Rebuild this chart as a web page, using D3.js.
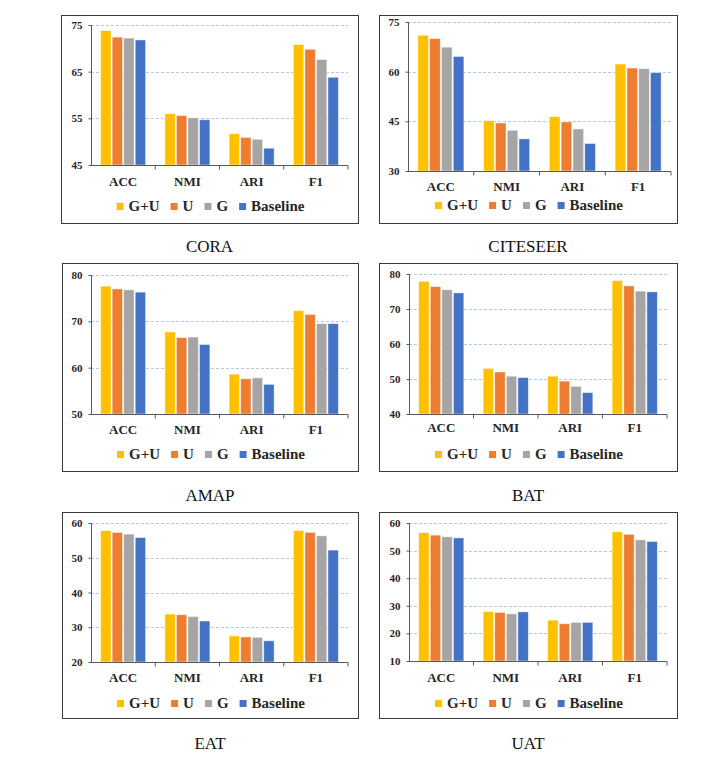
<!DOCTYPE html>
<html>
<head>
<meta charset="utf-8">
<script src="https://cdn.jsdelivr.net/npm/d3@7"></script>
<style>
  html, body { margin: 0; padding: 0; background: #fff; }
  svg { display: block; }
  text { font-family: 'Liberation Serif', 'Times New Roman', serif; }
</style>
</head>
<body>
<div id="chart"></div>
<script>
var categories = ['ACC', 'NMI', 'ARI', 'F1'];
var seriesNames = ['G+U', 'U', 'G', 'Baseline'];
var seriesColors = ['#FFC000', '#ED7D31', '#A5A5A5', '#4472C4'];
var datasets = ['CORA', 'CITESEER', 'AMAP', 'BAT', 'EAT', 'UAT'];

// values: one row per series (G+U, U, G, Baseline), one column per category
var coraValues = [
  [73.8, 56.0, 51.7, 70.8],
  [72.4, 55.6, 50.9, 69.8],
  [72.2, 55.1, 50.5, 67.6],
  [71.8, 54.7, 48.6, 63.8]
];
var citeseerValues = [
  [71.0, 45.2, 46.4, 62.3],
  [70.0, 44.5, 44.8, 61.1],
  [67.4, 42.3, 42.7, 60.9],
  [64.6, 39.7, 38.3, 59.7]
];
var amapValues = [
  [77.6, 67.7, 58.6, 72.3],
  [77.0, 66.5, 57.6, 71.5],
  [76.8, 66.6, 57.8, 69.5],
  [76.3, 65.0, 56.4, 69.5]
];
var batValues = [
  [77.9, 53.0, 50.8, 78.1],
  [76.4, 52.0, 49.4, 76.6],
  [75.5, 50.8, 47.9, 75.1],
  [74.6, 50.4, 46.1, 74.9]
];
var eatValues = [
  [57.8, 33.8, 27.5, 57.8],
  [57.3, 33.6, 27.2, 57.3],
  [56.8, 33.1, 27.1, 56.3],
  [55.8, 31.8, 26.1, 52.2]
];
var uatValues = [
  [56.5, 27.9, 24.8, 56.8],
  [55.6, 27.6, 23.5, 55.9],
  [55.0, 27.1, 24.0, 53.9],
  [54.6, 27.8, 24.0, 53.3]
];

var coraTicks = [45, 55, 65, 75];
var citeseerTicks = [30, 45, 60, 75];
var amapTicks = [50, 60, 70, 80];
var batTicks = [40, 50, 60, 70, 80];
var eatTicks = [20, 30, 40, 50, 60];
var uatTicks = [10, 20, 30, 40, 50, 60];

var allValues = [coraValues, citeseerValues, amapValues, batValues, eatValues, uatValues];
var allTicks = [coraTicks, citeseerTicks, amapTicks, batTicks, eatTicks, uatTicks];

// panel layout (pixels)
var layout = [
  { box: [61, 15, 358, 223],  plot: [91, 25, 348, 165],  catY: 186, legY: 206, titleY: 252 },
  { box: [379, 15, 677, 223], plot: [408, 22, 671, 171], catY: 191, legY: 205, titleY: 252 },
  { box: [62, 263, 358, 471], plot: [91, 275, 348, 414], catY: 434, legY: 454, titleY: 501 },
  { box: [379, 263, 677, 471], plot: [409, 274, 667, 414], catY: 432, legY: 454, titleY: 501 },
  { box: [62, 512, 358, 718], plot: [91, 523, 348, 662], catY: 682, legY: 703, titleY: 749 },
  { box: [379, 512, 677, 718], plot: [409, 523, 667, 661], catY: 682, legY: 703, titleY: 749 }
];

var svg = d3.select('#chart').append('svg')
  .attr('width', 703)
  .attr('height', 757);

datasets.forEach(function (name, i) {
  var L = layout[i];
  var values = allValues[i];
  var ticks = allTicks[i];
  var g = svg.append('g');

  // frame
  g.append('rect')
    .attr('x', L.box[0] + 0.5)
    .attr('y', L.box[1] + 0.5)
    .attr('width', L.box[2] - L.box[0])
    .attr('height', L.box[3] - L.box[1])
    .attr('fill', '#fff')
    .attr('stroke', '#3a3a3a')
    .attr('stroke-width', 1);

  var x0 = d3.scaleBand()
    .domain(categories)
    .range([L.plot[0], L.plot[2]])
    .paddingInner(0.3)
    .paddingOuter(0.15);

  var x1 = d3.scaleBand()
    .domain(seriesNames)
    .range([0, x0.bandwidth()])
    .paddingInner(0.1);

  var y = d3.scaleLinear()
    .domain([d3.min(ticks), d3.max(ticks)])
    .range([L.plot[3], L.plot[1]]);

  // gridlines
  g.append('g')
    .selectAll('line')
    .data(ticks.slice(1))
    .enter().append('line')
    .attr('x1', L.plot[0])
    .attr('x2', L.plot[2])
    .attr('y1', function (d) { return Math.round(y(d)) + 0.5; })
    .attr('y2', function (d) { return Math.round(y(d)) + 0.5; })
    .attr('stroke', '#b4c7e7')
    .attr('stroke-width', 1)
    .attr('stroke-dasharray', '3,2');

  // bars
  categories.forEach(function (cat, c) {
    seriesNames.forEach(function (s, k) {
      var v = values[k][c];
      g.append('rect')
        .attr('x', x0(cat) + x1(s))
        .attr('y', y(v))
        .attr('width', x1.bandwidth())
        .attr('height', y(d3.min(ticks)) - y(v))
        .attr('fill', seriesColors[k])
        .attr('stroke', '#fff')
        .attr('stroke-opacity', 0.55)
        .attr('stroke-width', 0.8);
    });
  });

  // y axis
  var yAxis = d3.axisLeft(y)
    .tickValues(ticks)
    .tickSize(3)
    .tickPadding(6)
    .tickFormat(d3.format('d'));
  var ya = g.append('g')
    .attr('transform', 'translate(' + (L.plot[0] + 0.5) + ',0)')
    .call(yAxis);
  ya.select('.domain').attr('stroke', '#595959').attr('d', 'M0,' + y(d3.max(ticks)) + 'V' + y(d3.min(ticks)));
  ya.selectAll('.tick line').attr('stroke', '#595959');
  ya.selectAll('.tick text')
    .attr('font-family', "'Liberation Serif', 'Times New Roman', serif")
    .attr('font-size', 11)
    .attr('font-weight', 'bold')
    .attr('fill', '#262626');

  // x axis line and boundary ticks
  var base = Math.round(y(d3.min(ticks))) + 0.5;
  g.append('line')
    .attr('x1', L.plot[0])
    .attr('x2', L.plot[2])
    .attr('y1', base)
    .attr('y2', base)
    .attr('stroke', '#595959')
    .attr('stroke-width', 1);

  var step = (L.plot[2] - L.plot[0]) / categories.length;
  g.append('g')
    .selectAll('line')
    .data(categories)
    .enter().append('line')
    .attr('x1', function (d, j) { return L.plot[0] + step * (j + 1); })
    .attr('x2', function (d, j) { return L.plot[0] + step * (j + 1); })
    .attr('y1', base)
    .attr('y2', base + 4)
    .attr('stroke', '#595959');

  // category labels
  g.append('g')
    .selectAll('text')
    .data(categories)
    .enter().append('text')
    .attr('x', function (d) { return x0(d) + x0.bandwidth() / 2; })
    .attr('y', L.catY)
    .attr('text-anchor', 'middle')
    .attr('font-size', 13)
    .attr('font-weight', 'bold')
    .attr('fill', '#262626')
    .text(function (d) { return d; });

  // legend
  var leg = g.append('g');
  var cx = 0;
  seriesNames.forEach(function (s, k) {
    leg.append('rect')
      .attr('x', cx)
      .attr('y', L.legY - 3)
      .attr('width', 7)
      .attr('height', 7)
      .attr('fill', seriesColors[k]);
    var t = leg.append('text')
      .attr('x', cx + 12)
      .attr('y', L.legY + 5)
      .attr('font-size', 15)
      .attr('font-weight', 'bold')
      .attr('fill', '#262626')
      .text(s);
    cx += 12 + t.node().getComputedTextLength() + 11;
  });
  var legW = cx - 11;
  var boxC = (L.box[0] + L.box[2]) / 2;
  leg.attr('transform', 'translate(' + (boxC - legW / 2 + 1) + ',0)');

  // title below the panel
  svg.append('text')
    .attr('x', boxC)
    .attr('y', L.titleY)
    .attr('text-anchor', 'middle')
    .attr('font-size', 17)
    .attr('fill', '#111')
    .text(name);
});
</script>
</body>
</html>
